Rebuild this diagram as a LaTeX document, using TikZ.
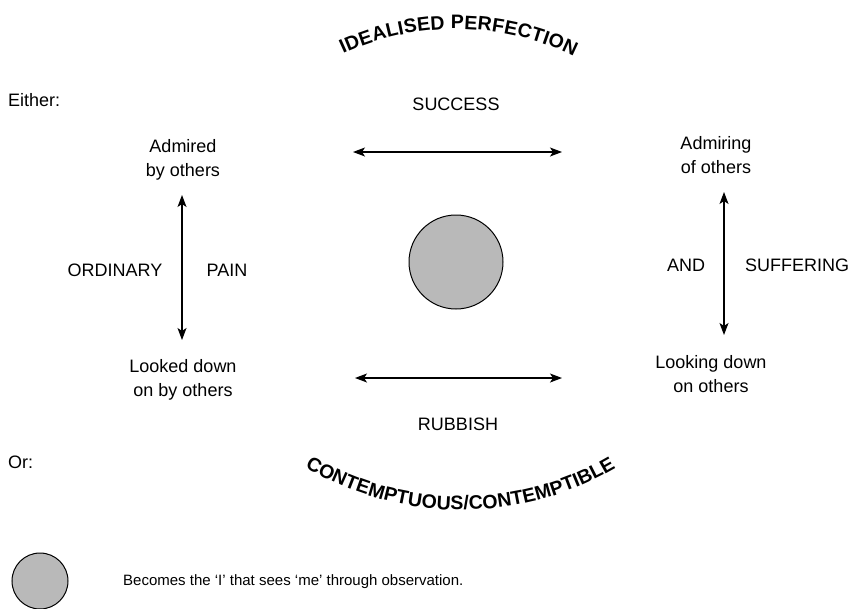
\documentclass[tikz,border=0pt]{standalone}
\usepackage{fontspec}
\setmainfont{Liberation Sans}
\usetikzlibrary{arrows.meta,decorations.text,calc}
\tikzset{
  lbl/.style={font=\fontsize{18}{24}\selectfont, inner sep=0pt, align=center},
  lftlbl/.style={lbl, anchor=west},
  tip/.style={},
  dbl/.style={{Stealth[length=12pt,width=9pt,inset=3pt]}-{Stealth[length=12pt,width=9pt,inset=3pt]}, line width=1.1pt},
  ball/.style={circle, draw=black, line width=1pt, fill=gray!55, inner sep=0pt},
  arctext/.style={decorate, decoration={text along path, text align={fit to path}}}
}
\begin{document}
\begin{tikzpicture}[x=1pt,y=-1pt]
\useasboundingbox (0,0) rectangle (854,608);

% curved titles
\coordinate (topc) at (456,297);
\path[arctext, decoration={text={|\fontsize{19.5}{20}\selectfont\bfseries|IDEALISED PERFECTION}}]
  ($(topc)+(-114.9:268)$) arc[start angle=-114.9, end angle=-63.9, radius=268];
\coordinate (botc) at (461,205);
\path[arctext, decoration={text={|\fontsize{19.5}{20}\selectfont\bfseries|CONTEMPTUOUS/CONTEMPTIBLE}}]
  ($(botc)+(120.8:305)$) arc[start angle=120.8, end angle=59.5, radius=305];

% labels
\node[lftlbl] (either) at (8,100) {Either:};
\node[lftlbl] (or) at (8,462) {Or:};
\node[lbl] (success) at (456,104) {SUCCESS};
\node[lbl] (rubbish) at (458,424) {RUBBISH};
\node[lbl] (admired) at (183,160) {Admired\\by others};
\node[lbl] (lookeddown) at (183,380) {Looked down\\on by others};
\node[lbl] (ordinary) at (115,270) {ORDINARY};
\node[lbl] (pain) at (227,270) {PAIN};
\node[lbl] (admiring) at (716,155) {Admiring\\of others};
\node[lbl] (lookingdown) at (711,374) {Looking down\\on others};
\node[lbl] (and) at (686,265) {AND};
\node[lbl] (suffering) at (797,265) {SUFFERING};

% central ball
\node[ball, minimum size=94pt] (self) at (456,262) {};

% arrows
\coordinate (tl) at (353,152); \coordinate (tr) at (562,152);
\coordinate (bl) at (355,378); \coordinate (br) at (562,378);
\coordinate (lt) at (182,195); \coordinate (lb) at (182,340);
\coordinate (rt) at (724,192); \coordinate (rb) at (724,335);
\draw[dbl] (tl) -- (tr);
\draw[dbl] (bl) -- (br);
\draw[dbl] (lt) -- (lb);
\draw[dbl] (rt) -- (rb);

% legend
\node[ball, minimum size=56pt] (legball) at (40,581) {};
\node[lftlbl, font=\fontsize{15}{18}\selectfont] (legend) at (123,582) {Becomes the ‘I’ that sees ‘me’ through observation.};
\end{tikzpicture}
\end{document}
